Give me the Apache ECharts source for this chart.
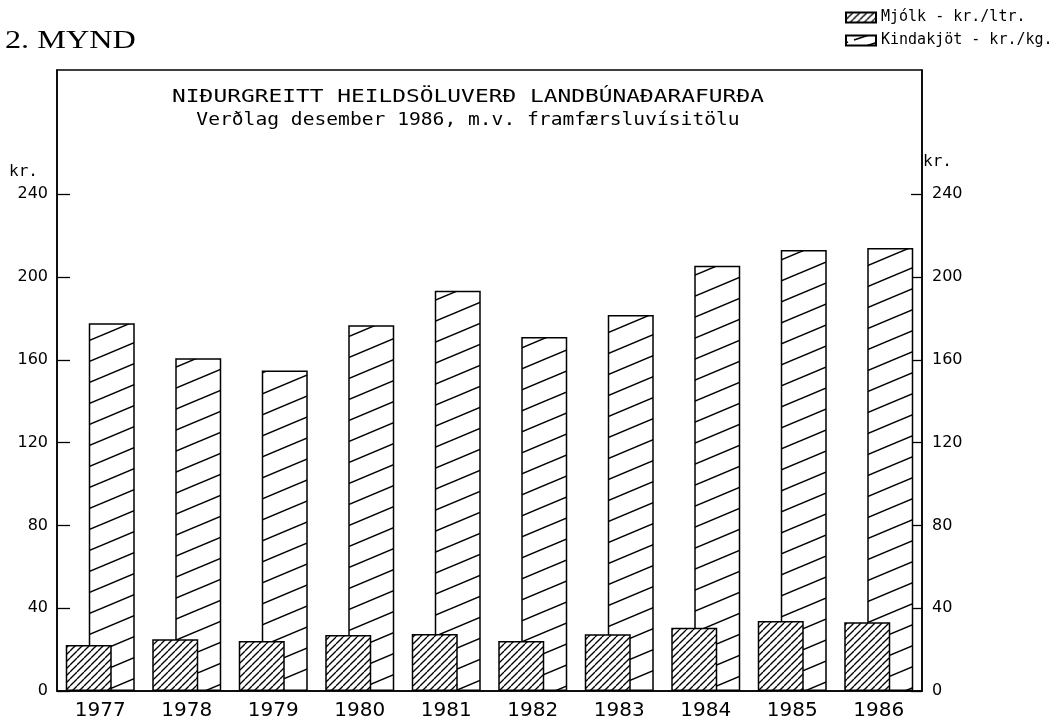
<!DOCTYPE html>
<html>
<head>
<meta charset="utf-8">
<script src="https://cdn.jsdelivr.net/npm/echarts@6/dist/echarts.min.js"></script>
<style>html,body{margin:0;padding:0;background:#fff}#c{width:1054px;height:723px}</style>
</head>
<body>
<div id="c"></div>
<script>
// ---- data ----
const years = ['1977','1978','1979','1980','1981','1982','1983','1984','1985','1986'];
const mjolk = [22.2, 25.0, 24.2, 27.1, 27.5, 24.2, 27.4, 30.5, 33.8, 33.2];
const kindakjot = [177.7, 160.8, 154.8, 176.7, 193.3, 171.0, 181.7, 205.4, 213.1, 214.0];
const yTicks = [0, 40, 80, 120, 160, 200, 240];
const seriesNames = ['Mjólk - kr./ltr.', 'Kindakjöt - kr./kg.'];
const titleLines = ['NIÐURGREITT HEILDSÖLUVERÐ LANDBÚNAÐARAFURÐA', 'Verðlag desember 1986, m.v. framfærsluvísitölu'];

// ---- hatch patterns ----
function makeHatch(w, h, lw) {
  const c = document.createElement('canvas');
  c.width = w; c.height = h;
  const g = c.getContext('2d');
  g.fillStyle = '#fff'; g.fillRect(0, 0, w, h);
  g.strokeStyle = '#000'; g.lineWidth = lw;
  for (let k = -1; k <= 1; k++) {
    g.beginPath(); g.moveTo(0, h + k * h); g.lineTo(w, k * h); g.stroke();
  }
  return c;
}
function makeSingle(w, h, lw) {
  const c = document.createElement('canvas');
  c.width = w; c.height = h;
  const g = c.getContext('2d');
  g.fillStyle = '#fff'; g.fillRect(0, 0, w, h);
  g.strokeStyle = '#000'; g.lineWidth = lw;
  g.beginPath(); g.moveTo(3, h - 1); g.lineTo(w - 3, 1); g.stroke();
  return c;
}
const densePattern = { image: makeHatch(7, 7, 1.3), repeat: 'repeat' };
const widePattern = { image: makeHatch(50, 21, 1.5), repeat: 'repeat' };
const legendWide = { image: makeSingle(30, 10, 1.5), repeat: 'repeat', x: 845, y: 35.5 };

const chart = echarts.init(document.getElementById('c'), null, { renderer: 'canvas' });
const axisFont = 'DejaVu Sans';
const mono = 'DejaVu Sans Mono';

chart.setOption({
  backgroundColor: '#fff',
  animation: false,
  grid: { left: 57, right: 132, top: 70, bottom: 32, show: true, borderColor: '#000', borderWidth: 1.5, backgroundColor: 'transparent' },
  legend: {
    data: [
      { name: seriesNames[0], icon: 'rect' },
      { name: seriesNames[1], icon: 'rect', itemStyle: { color: legendWide } }
    ],
    orient: 'vertical', left: 845, top: 10, padding: 0,
    itemWidth: 30, itemHeight: 10, itemGap: 8,
    textStyle: { fontFamily: mono, fontSize: 15, lineHeight: 15, color: '#000' },
    selectedMode: false
  },
  xAxis: {
    type: 'category', data: years,
    axisLine: { lineStyle: { color: '#000', width: 1.5 } },
    axisTick: { inside: true, length: 11, lineStyle: { color: '#000', width: 1.2 } },
    axisLabel: { fontFamily: axisFont, fontSize: 20, color: '#000', margin: 10 }
  },
  yAxis: [
    {
      type: 'value', min: 0, max: 300, interval: 40, position: 'left',
      axisLine: { show: true, lineStyle: { color: '#000', width: 1.5 } },
      axisTick: { show: true, inside: true, length: 13, customValues: yTicks, lineStyle: { color: '#000', width: 1.3 } },
      axisLabel: { fontFamily: axisFont, fontSize: 16, color: '#000', margin: 9, customValues: yTicks, formatter: v => (v <= 240 ? String(v) : '') },
      splitLine: { show: false }
    },
    {
      type: 'value', min: 0, max: 300, interval: 40, position: 'right',
      axisLine: { show: true, lineStyle: { color: '#000', width: 1.5 } },
      axisTick: { show: true, inside: true, length: 11, customValues: yTicks, lineStyle: { color: '#000', width: 1.3 } },
      axisLabel: { fontFamily: axisFont, fontSize: 16, color: '#000', margin: 10, customValues: yTicks, formatter: v => (v <= 240 ? String(v) : '') },
      splitLine: { show: false }
    }
  ],
  series: [
    {
      name: seriesNames[0], type: 'bar', data: mjolk, z: 3,
      barWidth: 46, barGap: '-50%',
      itemStyle: { color: densePattern, borderColor: '#000', borderWidth: 1.5 }
    },
    {
      name: seriesNames[1], type: 'bar', data: kindakjot, z: 2,
      barWidth: 46, barGap: '-50%',
      itemStyle: { color: widePattern, borderColor: '#000', borderWidth: 1.5 }
    }
  ],
  graphic: [
    { type: 'text', x: 5, y: 41, scaleX: 1.24, style: { text: '2. MYND', font: '26px "Liberation Serif"', fill: '#000', textAlign: 'left', textVerticalAlign: 'middle' } },
    { type: 'text', x: 468, y: 97, scaleX: 1.27, style: { text: titleLines[0], font: '18px "DejaVu Sans Mono"', fill: '#000', textAlign: 'center', textVerticalAlign: 'middle' } },
    { type: 'text', x: 468, y: 120, scaleX: 1.09, style: { text: titleLines[1], font: '18px "DejaVu Sans Mono"', fill: '#000', textAlign: 'center', textVerticalAlign: 'middle' } },
    { type: 'text', x: 9, y: 172, style: { text: 'kr.', font: '16px "DejaVu Sans Mono"', fill: '#000', textAlign: 'left', textVerticalAlign: 'middle' } },
    { type: 'text', x: 923, y: 162, style: { text: 'kr.', font: '16px "DejaVu Sans Mono"', fill: '#000', textAlign: 'left', textVerticalAlign: 'middle' } }
  ]
});
</script>
</body>
</html>
